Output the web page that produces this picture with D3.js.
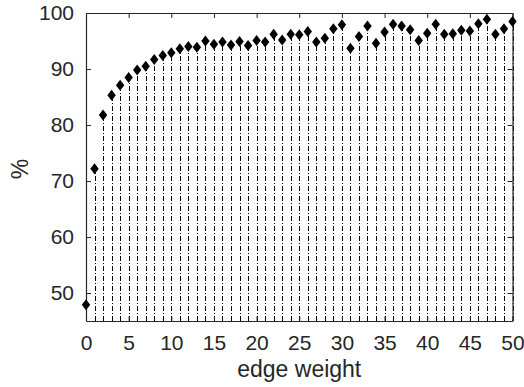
<!DOCTYPE html>
<html>
<head>
<meta charset="utf-8">
<script src="https://cdn.jsdelivr.net/npm/d3@7.9.0/dist/d3.min.js"></script>
<style>
  html, body { margin: 0; padding: 0; background: #fff; }
  svg { display: block; font-family: "Liberation Sans", Arial, Helvetica, sans-serif; }
</style>
</head>
<body>
<svg id="chart" width="524" height="387"></svg>
<script>
// edge weight values (x) and percentages (y)
const weights = d3.range(0, 51);
const percents = [
  47.9, 72.2, 81.8, 85.3, 87.1, 88.5, 89.8, 90.5, 91.7, 92.4,
  92.9, 93.6, 94.0, 93.9, 95.0, 94.4, 94.8, 94.3, 94.9, 94.2,
  95.1, 94.8, 96.2, 95.2, 96.2, 96.1, 96.7, 94.8, 95.5, 97.2,
  97.9, 93.7, 95.8, 97.7, 94.6, 96.6, 98.0, 97.7, 97.0, 95.1,
  96.4, 98.0, 96.2, 96.3, 96.9, 96.8, 98.1, 98.9, 96.2, 97.2,
  98.5
];
const xTicks = [0, 5, 10, 15, 20, 25, 30, 35, 40, 45, 50];
const yTicks = [50, 60, 70, 80, 90, 100];

const data = weights.map((w, i) => ({ w, p: percents[i] }));

const margin = { left: 86, right: 11.5, top: 13, bottom: 66 };
const width = 524, height = 387;
const axisColor = '#262626';

const svg = d3.select('#chart');

const x = d3.scaleLinear()
  .domain([0, 50])
  .range([margin.left, width - margin.right]);

const y = d3.scaleLinear()
  .domain([45, 100])
  .range([height - margin.bottom, margin.top]);

// stems from the bottom axis up to each point
svg.append('g')
  .selectAll('line')
  .data(data)
  .enter()
  .append('line')
  .attr('x1', d => Math.round(x(d.w)) + 0.5)
  .attr('x2', d => Math.round(x(d.w)) + 0.5)
  .attr('y1', y(45))
  .attr('y2', d => y(d.p))
  .attr('stroke', '#000')
  .attr('stroke-width', 1)
  .attr('stroke-dasharray', '5,2,1,2');

// axes: bottom/left with labels, top/right mirrored ticks only
const tickLen = 5;
const gx = svg.append('g')
  .attr('transform', `translate(0,${y(45)})`)
  .call(d3.axisBottom(x).tickValues(xTicks).tickSizeInner(-tickLen).tickSizeOuter(0).tickPadding(14));
const gxTop = svg.append('g')
  .attr('transform', `translate(0,${y(100)})`)
  .call(d3.axisTop(x).tickValues(xTicks).tickSizeInner(-tickLen).tickSizeOuter(0).tickFormat(''));
const gy = svg.append('g')
  .attr('transform', `translate(${x(0)},0)`)
  .call(d3.axisLeft(y).tickValues(yTicks).tickSizeInner(-tickLen).tickSizeOuter(0).tickPadding(12));
const gyRight = svg.append('g')
  .attr('transform', `translate(${x(50)},0)`)
  .call(d3.axisRight(y).tickValues(yTicks).tickSizeInner(-tickLen).tickSizeOuter(0).tickFormat(''));

[gx, gxTop, gy, gyRight].forEach(g => {
  g.selectAll('path').attr('stroke', axisColor).attr('stroke-width', 1.2);
  g.selectAll('line').attr('stroke', axisColor);
  g.selectAll('text')
    .attr('fill', axisColor)
    .style('font-size', '21px')
    .style('font-family', '"Liberation Sans", Arial, sans-serif');
});

// diamond markers
const diamond = 'M0,-5.5L4.2,0L0,5.5L-4.2,0Z';
svg.append('g')
  .selectAll('path')
  .data(data)
  .enter()
  .append('path')
  .attr('d', diamond)
  .attr('transform', d => `translate(${x(d.w)},${y(d.p)})`)
  .attr('fill', '#000');

// axis titles
svg.append('text')
  .attr('x', (x(0) + x(50)) / 2)
  .attr('y', 377)
  .attr('text-anchor', 'middle')
  .attr('fill', axisColor)
  .style('font-size', '23px')
  .text('edge weight');

svg.append('text')
  .attr('transform', `translate(28,${(y(45) + y(100)) / 2 + 2}) rotate(-90)`)
  .attr('text-anchor', 'middle')
  .attr('fill', axisColor)
  .style('font-size', '23px')
  .text('%');
</script>
</body>
</html>
